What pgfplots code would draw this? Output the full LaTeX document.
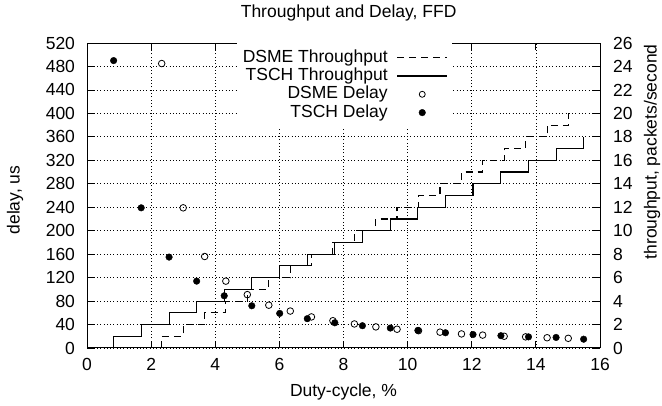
\documentclass[border=0pt]{standalone}
\usepackage{fontspec}
\setmainfont{Liberation Sans}
\usepackage{pgfplots}
\pgfplotsset{compat=1.18}
\pgfplotsset{
  lineleg/.style={legend image code/.code={\draw[##1] (0bp,0bp) -- (50bp,0bp);}},
  markleg/.style={legend image code/.code={\draw[mark repeat=2,mark phase=2,##1] plot coordinates {(0bp,0bp)(25bp,0bp)(50bp,0bp)};}},
}
\begin{document}
\fontsize{17.5bp}{21bp}\selectfont
\begin{tikzpicture}
\useasboundingbox (0,0) rectangle (662bp,406bp);
\begin{axis}[
  at={(87bp,58bp)}, anchor=south west,
  width=513bp, height=305bp, scale only axis,
  xmin=0, xmax=16, ymin=0, ymax=520,
  xtick={0,2,...,16}, ytick={0,40,...,520},
  xtick pos=both, ytick pos=left, tick align=inside,
  major tick length=7bp,
  grid=major, grid style={black, line width=0.7bp, dash pattern=on 0.8bp off 2.5bp},
  axis line style={line width=1bp}, tick style={black, line width=0.8bp},
  /pgf/number format/assume math mode=true,
  every axis title shift=0pt,
  title={Throughput and Delay, FFD},
  title style={at={(axis description cs:0.51,1.10)}, anchor=center},
  xlabel={Duty-cycle, \%},
  xlabel style={at={(axis description cs:0.5,-0.145)}, anchor=center},
  ylabel={delay, us},
  ylabel style={at={(axis description cs:-0.140,0.485)}, anchor=center},
  xticklabel style={yshift=-4bp},
  yticklabel style={xshift=-6bp},
]
% DSME delay
\addplot[only marks, mark=o, mark size=3.3bp, black, line width=0.8bp] coordinates {
(2.33,485) (3.00,239) (3.67,156) (4.33,114) (5.00,91) (5.67,73) (6.34,63) (7.00,53) (7.67,46.5) (8.34,41)
(9.01,36) (9.67,32) (10.34,29.5) (11.01,27) (11.68,24) (12.34,22) (13.01,20) (13.68,19) (14.35,17.5) (15.01,16.5)
};
% TSCH delay
\addplot[only marks, mark=*, mark size=3.3bp, black] coordinates {
(0.83,490) (1.69,239) (2.56,155) (3.42,114) (4.28,89) (5.14,72) (6.01,59) (6.87,50) (7.73,43)
(8.59,38) (9.46,34) (10.32,30) (11.18,26) (12.04,23) (12.91,21) (13.77,19) (14.63,18) (15.49,15)
};
\end{axis}
\begin{axis}[
  at={(87bp,58bp)}, anchor=south west,
  width=513bp, height=305bp, scale only axis,
  xmin=0, xmax=16, ymin=0, ymax=26,
  ytick={0,2,...,26},
  axis y line*=right, axis x line=none,
  tick align=inside, major tick length=7bp,
  axis line style={line width=1bp}, tick style={black, line width=0.8bp},
  /pgf/number format/assume math mode=true,
  yticklabel style={xshift=7bp},
  ylabel={throughput, packets/second},
  ylabel style={at={(axis description cs:1.1014,0.643)}, anchor=center},
  legend plot pos=right, legend cell align=right,
  legend style={at={(axis description cs:0.7115,1)}, anchor=north east, draw=none, fill=white,
    inner xsep=4bp, inner ysep=6bp, row sep=1.3bp, column sep=7bp,
    nodes={inner ysep=0.5bp, inner xsep=2bp, text height=12.5bp, text depth=3.5bp}},
]
% DSME throughput
\addplot[const plot, black, line width=1.1bp, dash pattern=on 7bp off 5bp, lineleg] coordinates {
(2.33,0) (2.33,1) (3.00,2) (3.67,3) (4.33,4) (5.00,5) (5.67,6) (6.34,7) (7.00,8) (7.67,9) (8.34,10)
(9.01,11) (9.67,12) (10.34,13) (11.01,14) (11.68,15) (12.34,16) (13.01,17) (13.68,18) (14.35,19) (15.01,20)
};
\addlegendentry{DSME Throughput}
% TSCH throughput
\addplot[const plot, black, line width=1.1bp, lineleg] coordinates {
(0.83,0) (0.83,1) (1.69,2) (2.56,3) (3.42,4) (4.28,5) (5.14,6) (6.01,7) (6.87,8) (7.73,9)
(8.59,10) (9.46,11) (10.32,12) (11.18,13) (12.04,14) (12.91,15) (13.77,16) (14.63,17) (15.49,18)
};
\addlegendentry{TSCH Throughput}
\addlegendimage{only marks, mark=o, mark size=3bp, black, line width=0.8bp, markleg}
\addlegendentry{DSME Delay}
\addlegendimage{only marks, mark=*, mark size=3.3bp, black, markleg}
\addlegendentry{TSCH Delay}
\end{axis}
\end{tikzpicture}
\end{document}
